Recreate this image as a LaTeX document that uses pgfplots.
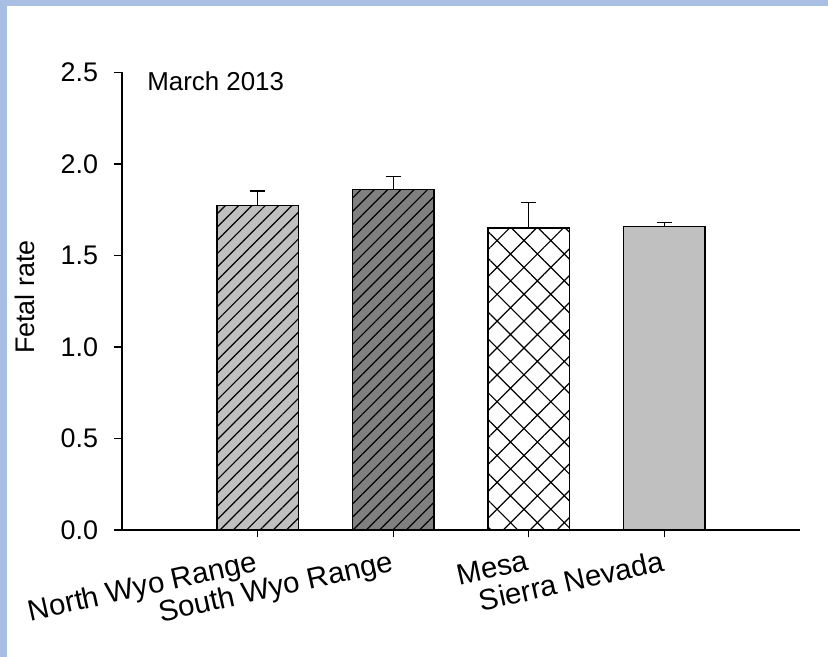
\documentclass[border=0pt]{standalone}
\usepackage{pgfplots}
\pgfplotsset{compat=1.18}
\usepackage{fontspec}
\setmainfont{Liberation Sans}
\usetikzlibrary{patterns.meta}

\definecolor{barlight}{RGB}{192,192,192}
\definecolor{bardark}{RGB}{128,128,128}
\definecolor{frameblue}{RGB}{168,190,227}

\newcommand{\tickfont}{\fontsize{27}{31}\selectfont}
\newcommand{\catfont}{\fontsize{29.5}{34}\selectfont}

\begin{document}
\begin{tikzpicture}[x=1bp,y=1bp]
\useasboundingbox (0,0) rectangle (828,657);
\fill[white] (0,0) rectangle (828,657);
% slide frame on the left and top
\fill[frameblue] (0,0) rectangle (7,657);
\fill[frameblue] (0,651) rectangle (828,657);

\begin{axis}[
  at={(122bp,127bp)}, anchor=south west,
  scale only axis, width=678bp, height=457.5bp,
  xmin=0, xmax=5, ymin=0, ymax=2.5,
  axis lines=left,
  axis line style={-, line width=1.4bp, black},
  tick align=outside,
  major tick length=7.5bp,
  tick style={black, line width=1.1bp},
  ytick={0,0.5,1,1.5,2,2.5},
  /pgf/number format/fixed,
  /pgf/number format/fixed zerofill,
  /pgf/number format/precision=1,
  /pgf/number format/assume math mode=true,
  yticklabel style={font=\tickfont, xshift=-13bp},
  xtick={1,2,3,4},
  xticklabels={North Wyo Range,South Wyo Range,Mesa,Sierra Nevada},
  xticklabel style={font=\catfont, rotate=12.5, anchor=north east,
    inner sep=0pt, xshift=-6bp, yshift=-11bp},
  ylabel={Fetal rate},
  ylabel style={font=\tickfont, at={(axis description cs:-0.143,0.509)}, anchor=center},
  ybar, bar width=0.6, bar shift=0pt,
  error bars/y dir=plus, error bars/y explicit,
  error bars/error bar style={black, line width=1.2bp},
  error bars/error mark options={rotate=90, mark size=7.5bp, line width=1.2bp, black},
  clip=false,
]
% North Wyo Range
\addplot[draw=black, line width=1.4bp, fill=barlight,
  postaction={pattern={Lines[angle=45,distance=9.4bp,line width=1.2bp]}}]
  coordinates {(1,1.772) +- (0,0.080)};
% South Wyo Range
\addplot[draw=black, line width=1.4bp, fill=bardark,
  postaction={pattern={Lines[angle=45,distance=9.4bp,line width=1.2bp]}}]
  coordinates {(2,1.860) +- (0,0.071)};
% Mesa
\addplot[draw=black, line width=1.4bp, fill=white,
  postaction={pattern={Hatch[angle=45,distance=19bp,line width=1.2bp]}}]
  coordinates {(3,1.650) +- (0,0.139)};
% Sierra Nevada
\addplot[draw=black, line width=1.4bp, fill=barlight]
  coordinates {(4,1.657) +- (0,0.024)};

\node[anchor=west, font=\fontsize{26}{30}\selectfont, inner sep=0pt]
  at (rel axis cs:0.037,0.981) {March 2013};
\end{axis}
\end{tikzpicture}
\end{document}
